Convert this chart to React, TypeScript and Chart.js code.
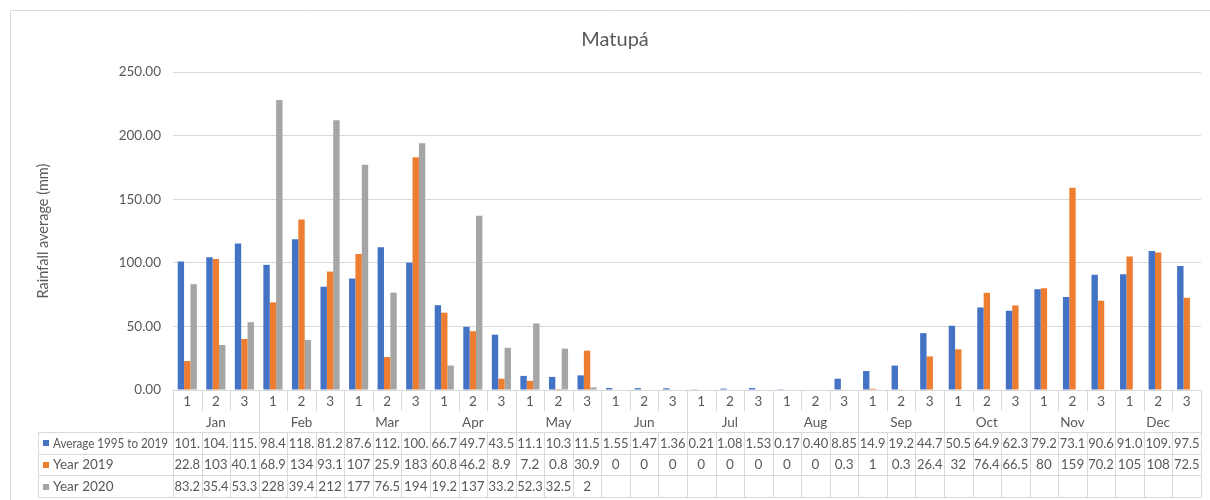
import React, { useEffect, useRef } from "react";
import { Chart, registerables } from "chart.js";

Chart.register(...registerables);

const months = ["Jan", "Feb", "Mar", "Apr", "May", "Jun", "Jul", "Aug", "Sep", "Oct", "Nov", "Dec"];
const periods = ["1", "2", "3"];

const seriesNames = ["Average 1995 to 2019", "Year 2019", "Year 2020"];
const seriesColors = ["#4472C4", "#ED7D31", "#A5A5A5"];

const average = [
  101.1, 104.3, 115.2, 98.4, 118.6, 81.2, 87.6, 112.3, 100.1,
  66.7, 49.7, 43.5, 11.1, 10.3, 11.5, 1.55, 1.47, 1.36,
  0.21, 1.08, 1.53, 0.17, 0.4, 8.85, 14.9, 19.2, 44.7,
  50.5, 64.9, 62.3, 79.2, 73.1, 90.6, 91.0, 109.2, 97.5,
];
const year2019 = [
  22.8, 103, 40.1, 68.9, 134, 93.1, 107, 25.9, 183,
  60.8, 46.2, 8.9, 7.2, 0.8, 30.9, 0, 0, 0,
  0, 0, 0, 0, 0, 0.3, 1, 0.3, 26.4,
  32, 76.4, 66.5, 80, 159, 70.2, 105, 108, 72.5,
];
const year2020: (number | null)[] = [
  83.2, 35.4, 53.3, 228, 39.4, 212, 177, 76.5, 194,
  19.2, 137, 33.2, 52.3, 32.5, 2, null, null, null,
  null, null, null, null, null, null, null, null, null,
  null, null, null, null, null, null, null, null, null,
];

const yTicks = [0, 50, 100, 150, 200, 250];
const titleText = "Matupá";
const yTitleText = "Rainfall average (mm)";

const FONT = "Lato, 'Open Sans', sans-serif";
const TEXT = "#595959";
const GRID = "#d9d9d9";

const fmtAverage = (v: number) => (v < 10 ? v.toFixed(2) : v.toFixed(1)).slice(0, 4);
const fmtPlain = (v: number | null) => (v === null ? "" : String(v));

const fitText = (ctx: any, txt: string, x: number, y: number, maxW: number) => {
  const w = ctx.measureText(txt).width;
  if (w <= maxW) {
    ctx.fillText(txt, x, y);
    return;
  }
  ctx.save();
  ctx.translate(x, y);
  ctx.scale(maxW / w, 1);
  ctx.fillText(txt, 0, 0);
  ctx.restore();
};

const tablePlugin = {
  id: "excelTable",
  beforeDraw(chart: any) {
    const ctx = chart.ctx;
    ctx.save();
    ctx.fillStyle = "#ffffff";
    ctx.fillRect(0, 0, chart.width, chart.height);
    ctx.strokeStyle = GRID;
    ctx.lineWidth = 1;
    ctx.beginPath();
    ctx.moveTo(10.5, chart.height + 5);
    ctx.lineTo(10.5, 10.5);
    ctx.lineTo(chart.width + 5, 10.5);
    ctx.stroke();
    ctx.restore();
  },
  afterDraw(chart: any) {
    const ctx = chart.ctx;
    const area = chart.chartArea;
    const xs = chart.scales.x;
    const n = average.length;
    const colW = (area.right - area.left) / n;
    const left = area.left;
    const right = area.right;
    const top = area.bottom;
    const subBottom = top + 21;
    const monthBottom = top + 42;
    const rowH = 21.7;
    const rowsTop = monthBottom;
    const rowsBottom = rowsTop + rowH * 3;
    const legendLeft = 38;

    ctx.save();
    // Title
    ctx.fillStyle = TEXT;
    ctx.font = `20px ${FONT}`;
    ctx.textAlign = "center";
    ctx.textBaseline = "alphabetic";
    ctx.fillText(titleText, 615, 46);

    // Y title
    ctx.save();
    ctx.translate(43, 231);
    ctx.rotate(-Math.PI / 2);
    ctx.font = `14.5px ${FONT}`;
    ctx.textBaseline = "middle";
    ctx.fillText(yTitleText, 0, 0);
    ctx.restore();

    // Grid lines of table
    ctx.strokeStyle = GRID;
    ctx.lineWidth = 1;
    ctx.beginPath();
    const hline = (x1: number, x2: number, y: number) => {
      const yy = Math.round(y) + 0.5;
      ctx.moveTo(x1, yy);
      ctx.lineTo(x2, yy);
    };
    const vline = (x: number, y1: number, y2: number) => {
      const xx = Math.round(x) + 0.5;
      ctx.moveTo(xx, y1);
      ctx.lineTo(xx, y2);
    };
    hline(left, right, top);
    hline(legendLeft, right, rowsTop);
    hline(legendLeft, right, rowsTop + rowH);
    hline(legendLeft, right, rowsTop + rowH * 2);
    hline(legendLeft, right, rowsBottom);
    vline(legendLeft, rowsTop, rowsBottom);
    for (let i = 0; i <= n; i++) {
      const x = left + i * colW;
      if (i % periods.length === 0) {
        vline(x, top, rowsBottom);
      } else {
        vline(x, top, subBottom);
        vline(x, rowsTop, rowsBottom);
      }
    }
    ctx.stroke();

    // Period labels
    ctx.fillStyle = TEXT;
    ctx.font = `13.5px ${FONT}`;
    ctx.textAlign = "center";
    ctx.textBaseline = "middle";
    for (let i = 0; i < n; i++) {
      const cx = xs.getPixelForValue(i);
      ctx.fillText(periods[i % periods.length], cx, top + 11.5);
    }
    // Month labels
    months.forEach((m, mi) => {
      const cx = (xs.getPixelForValue(mi * 3) + xs.getPixelForValue(mi * 3 + 2)) / 2;
      ctx.fillText(m, cx, top + 32.5);
    });

    // Series rows
    const rowsData: string[][] = [
      average.map(fmtAverage),
      year2019.map((v) => fmtPlain(v)),
      year2020.map((v) => fmtPlain(v)),
    ];
    rowsData.forEach((row, ri) => {
      const cy = rowsTop + rowH * ri + rowH / 2 + 0.5;
      // legend key
      ctx.fillStyle = seriesColors[ri];
      ctx.fillRect(43, Math.round(cy - 3), 6, 6);
      ctx.fillStyle = TEXT;
      ctx.textAlign = "left";
      fitText(ctx, seriesNames[ri], 53, cy, 115);
      ctx.textAlign = "center";
      row.forEach((txt, i) => {
        if (!txt) return;
        const cx = xs.getPixelForValue(i);
        ctx.save();
        ctx.beginPath();
        ctx.rect(left + i * colW + 1, cy - 10, colW - 1, 20);
        ctx.clip();
        fitText(ctx, txt, cx, cy, colW - 3);
        ctx.restore();
      });
    });
    ctx.restore();
  },
};

export default function App() {
  const canvasRef = useRef<HTMLCanvasElement | null>(null);

  useEffect(() => {
    if (!canvasRef.current) return;
    const labels = months.flatMap((m) => periods.map((p) => `${m} ${p}`));
    const chart = new Chart(canvasRef.current, {
      type: "bar",
      data: {
        labels,
        datasets: [
          { label: seriesNames[0], data: average, backgroundColor: seriesColors[0] },
          { label: seriesNames[1], data: year2019, backgroundColor: seriesColors[1] },
          { label: seriesNames[2], data: year2020, backgroundColor: seriesColors[2] },
        ],
      },
      options: {
        animation: false,
        responsive: true,
        maintainAspectRatio: false,
        layout: { padding: { left: 0, top: 72, right: 9, bottom: 110 } },
        datasets: { bar: { categoryPercentage: 0.67, barPercentage: 1.0, borderWidth: 0 } },
        scales: {
          x: { display: false },
          y: {
            min: 0,
            max: 250,
            afterFit: (scale: any) => {
              scale.width = 173;
            },
            afterBuildTicks: (scale: any) => {
              scale.ticks = yTicks.map((v) => ({ value: v }));
            },
            border: { display: false },
            grid: { color: GRID, drawTicks: false, lineWidth: 1 },
            ticks: {
              padding: 12,
              color: TEXT,
              font: { family: FONT, size: 13.5 },
              callback: (v: any) => Number(v).toFixed(2),
            },
          },
        },
        plugins: {
          legend: { display: false },
          title: { display: false },
          tooltip: { enabled: false },
        },
      },
      plugins: [tablePlugin],
    });
    return () => chart.destroy();
  }, []);

  return (
    <div style={{ position: "fixed", left: 0, top: 0, width: 1210, height: 500, background: "#fff" }}>
      <canvas ref={canvasRef} />
    </div>
  );
}
